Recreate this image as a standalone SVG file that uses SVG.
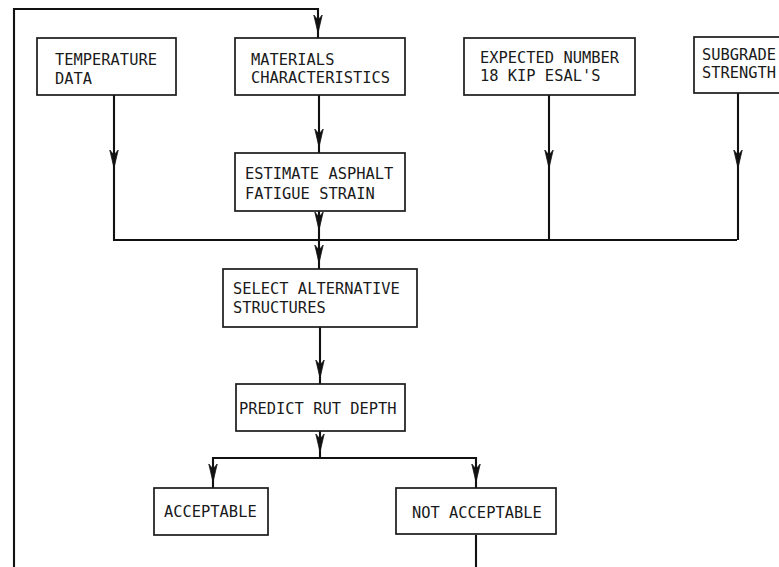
<svg xmlns="http://www.w3.org/2000/svg" xmlns:xlink="http://www.w3.org/1999/xlink" width="779" height="567" viewBox="0 0 779 567">
  <style>
    .box { fill: #ffffff; stroke: #1a1a1a; stroke-width: 1.7; }
    .wire { fill: none; stroke: #111111; stroke-width: 2.1; }
    .lbl { font-family: "DejaVu Sans Mono", "Liberation Mono", monospace; font-size: 15.4px; fill: #1a1a1a; }
  </style>
  <defs>
    <!-- downward arrowhead, tip at origin -->
    <path id="ah" d="M-4.2,-18 L0,0 L4.2,-18 L0,-13 Z" fill="#111111" stroke="#111111" stroke-width="0.8" stroke-linejoin="round"/>
  </defs>

  <rect width="779" height="567" fill="#ffffff"/>

  <g id="connectors">
    <!-- feedback loop from NOT ACCEPTABLE back to materials -->
    <polyline class="wire" points="14,567 14,9 318,9 318,38"/>
    <use xlink:href="#ah" x="318" y="33"/>
    <polyline class="wire" points="476,535 476,567"/>

    <!-- inputs to collector bus -->
    <polyline class="wire" points="114,95 114,240 737,240"/>
    <use xlink:href="#ah" x="114" y="168"/>
    <line class="wire" x1="549" y1="95" x2="549" y2="240"/>
    <use xlink:href="#ah" x="549" y="168"/>
    <line class="wire" x1="738" y1="93" x2="738" y2="240"/>
    <use xlink:href="#ah" x="738" y="168"/>

    <line class="wire" x1="319" y1="95" x2="319" y2="153"/>
    <use xlink:href="#ah" x="319" y="147"/>
    <line class="wire" x1="319" y1="211" x2="319" y2="269"/>
    <use xlink:href="#ah" x="319" y="230"/>
    <use xlink:href="#ah" x="319" y="263"/>

    <line class="wire" x1="320" y1="327" x2="320" y2="384"/>
    <use xlink:href="#ah" x="320" y="378"/>

    <line class="wire" x1="320" y1="431" x2="320" y2="458"/>
    <use xlink:href="#ah" x="320" y="452"/>
    <polyline class="wire" points="213,488 213,458 476,458 476,488"/>
    <use xlink:href="#ah" x="213" y="482"/>
    <use xlink:href="#ah" x="476" y="482"/>
  </g>

  <g id="temperature">
    <rect class="box" x="37" y="38" width="139" height="57"/>
    <text class="lbl" x="55" y="65">TEMPERATURE</text>
    <text class="lbl" x="55" y="84">DATA</text>
  </g>

  <g id="materials">
    <rect class="box" x="235" y="38" width="170" height="57"/>
    <text class="lbl" x="251" y="65">MATERIALS</text>
    <text class="lbl" x="251" y="83">CHARACTERISTICS</text>
  </g>

  <g id="esals">
    <rect class="box" x="464" y="38" width="171" height="57"/>
    <text class="lbl" x="480" y="63">EXPECTED NUMBER</text>
    <text class="lbl" x="480" y="81">18 KIP ESAL'S</text>
  </g>

  <g id="subgrade">
    <rect class="box" x="694" y="37" width="100" height="56"/>
    <text class="lbl" x="702" y="60">SUBGRADE</text>
    <text class="lbl" x="702" y="78">STRENGTH</text>
  </g>

  <g id="fatigue">
    <rect class="box" x="235" y="153" width="170" height="58"/>
    <text class="lbl" x="245" y="179">ESTIMATE ASPHALT</text>
    <text class="lbl" x="245" y="199">FATIGUE STRAIN</text>
  </g>

  <g id="select">
    <rect class="box" x="223" y="269" width="194" height="58"/>
    <text class="lbl" x="233" y="294">SELECT ALTERNATIVE</text>
    <text class="lbl" x="233" y="313">STRUCTURES</text>
  </g>

  <g id="rut">
    <rect class="box" x="236" y="384" width="169" height="47"/>
    <text class="lbl" x="239" y="414">PREDICT RUT DEPTH</text>
  </g>

  <g id="acceptable">
    <rect class="box" x="154" y="488" width="114" height="47"/>
    <text class="lbl" x="164" y="517">ACCEPTABLE</text>
  </g>

  <g id="not-acceptable">
    <rect class="box" x="396" y="488" width="160" height="46"/>
    <text class="lbl" x="412" y="518">NOT ACCEPTABLE</text>
  </g>
</svg>
